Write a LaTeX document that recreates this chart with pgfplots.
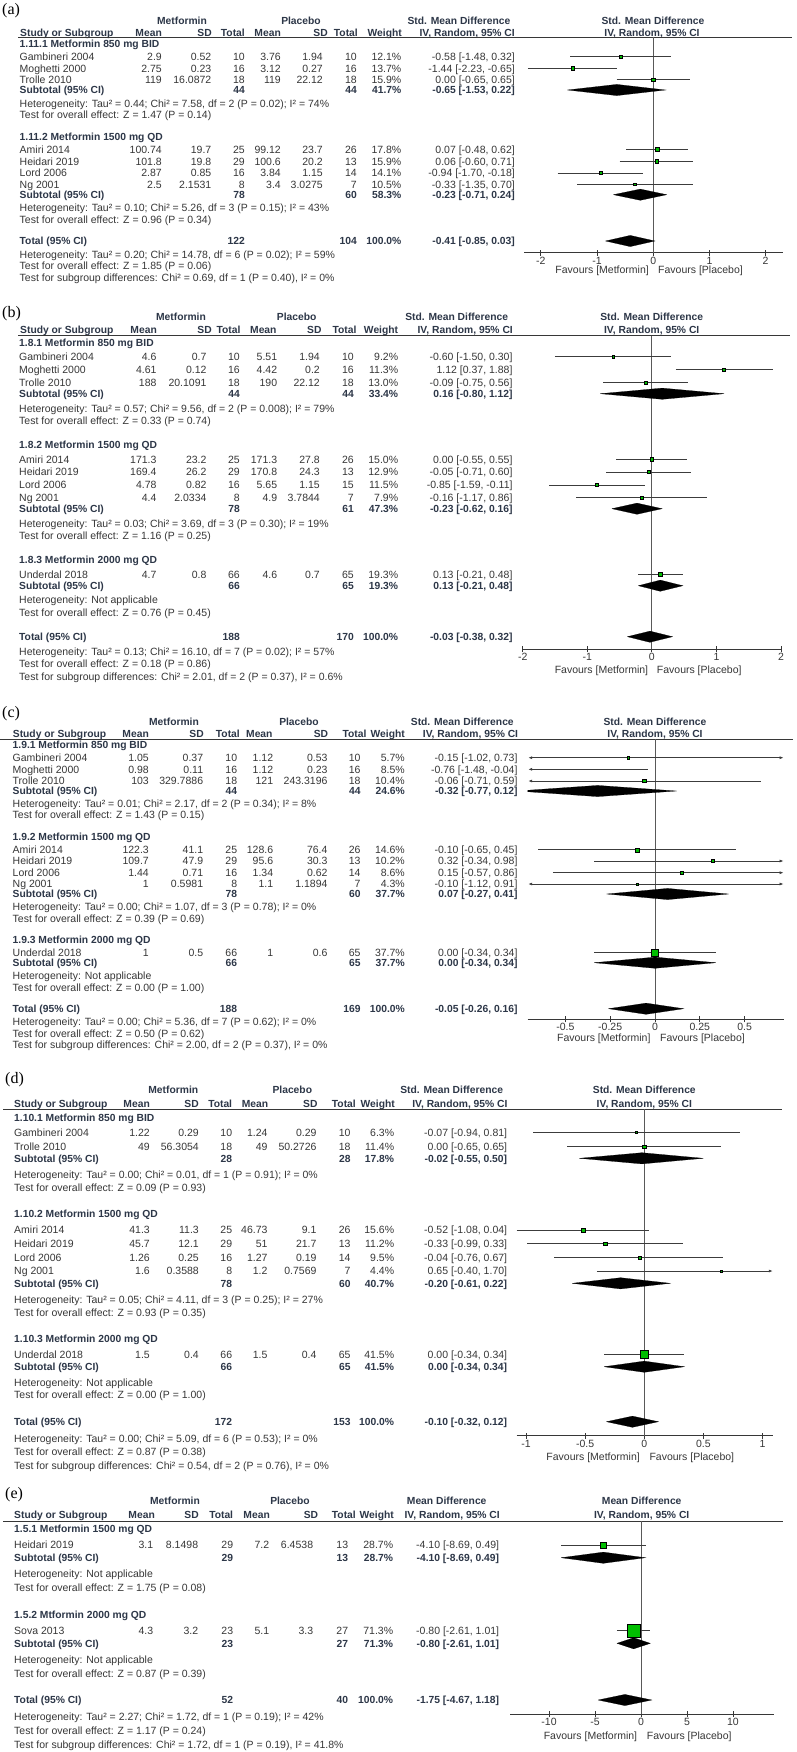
\documentclass[border=0pt]{standalone}
\usepackage{fontspec}
\setmainfont{Liberation Sans}
\newfontfamily\seriffont{Liberation Serif}
\usepackage{pgfplots}
\pgfplotsset{compat=1.18}
\usetikzlibrary{arrows.meta}

\definecolor{ctx}{RGB}{55,55,55}
\definecolor{chd}{RGB}{45,55,72}
\definecolor{sqg}{RGB}{0,190,0}
\definecolor{ccil}{RGB}{60,60,60}

\newcommand\fs{\fontsize{10.5}{12.5}\selectfont}
\newcommand\fb{\fontsize{10.3}{12.5}\selectfont\bfseries}
\tikzset{
  tx/.style={inner sep=0pt, text=ctx, font=\fs},
  tb/.style={inner sep=0pt, text=chd, font=\fb},
  la/.style={{Latex[length=4pt,width=3pt]}-},
  ra/.style={-{Latex[length=4pt,width=3pt]}},
  ba/.style={{Latex[length=4pt,width=3pt]}-{Latex[length=4pt,width=3pt]}},
}

% ---- table text (pixel coordinates, y downwards)
\newcommand\tR[3]{\node[tx,anchor=base east] at (#1,#2+3.8) {#3};}
\newcommand\tRB[3]{\node[tb,anchor=base east] at (#1,#2+3.8) {#3};}
\newcommand\tC[3]{\node[tb,anchor=base] at (#1,#2+3.8) {#3};}
\newcommand\tL[2]{\node[tx,anchor=base west] at (\cL,#1+3.8) {#2};}
\newcommand\tLB[2]{\node[tb,anchor=base west] at (\cL,#1+3.8) {#2};}
\newcommand\setcols[9]{\def\cL{#1}\def\cA{#2}\def\cB{#3}\def\cC{#4}\def\cD{#5}\def\cE{#6}\def\cF{#7}\def\cG{#8}\def\cH{#9}}
\newcommand\srow[9]{\tL{#1}{#2}\tR{\cA}{#1}{#3}\tR{\cB}{#1}{#4}\tR{\cC}{#1}{#5}\tR{\cD}{#1}{#6}\tR{\cE}{#1}{#7}\tR{\cF}{#1}{#8}\tR{\cG}{#1}{#9}}
\newcommand\sef[2]{\tR{\cH}{#1}{#2}}
\newcommand\ssub[6]{\tLB{#1}{#2}\tRB{\cC}{#1}{#3}\tRB{\cF}{#1}{#4}\tRB{\cG}{#1}{#5}\tRB{\cH}{#1}{#6}}
\newcommand\hdone[6]{\tC{#2}{#1}{Metformin}\tC{#3}{#1}{Placebo}\tC{#4}{#1}{#6}\tC{#5}{#1}{#6}}
\newcommand\hdtwo[9]{\node[tb,anchor=base west] at (#2,#1+3.8) {Study or Subgroup};
  \tRB{#3}{#1}{Mean}\tRB{#4}{#1}{SD}\tRB{#5}{#1}{Total}\tRB{#6}{#1}{Mean}\tRB{#7}{#1}{SD}\tRB{#8}{#1}{Total}\tRB{#9}{#1}{Weight}}
\newcommand\hdiv[3]{\tRB{#2}{#1}{IV, Random, 95\% CI}\tC{#3}{#1}{IV, Random, 95\% CI}}
\newcommand\tabrule[3]{\draw[line width=1pt, ctx] (#2,#1) -- (#3,#1);}
\newcommand\fav[3]{\node[tx,anchor=base east] at (#2,#1+3.8) {Favours [Metformin]};
  \node[tx,anchor=base west] at (#3,#1+3.8) {Favours [Placebo]};}
\newcommand\plab[3]{\node[inner sep=0pt,anchor=base west,font=\seriffont\fontsize{16}{16}\selectfont] at (#1,#2) {#3};}

% ---- forest plot elements (inside axis, y = -pixel row)
\newcommand\fci[4][]{\addplot[draw=ccil, line width=0.7pt, #1] coordinates {(#3,-#2) (#4,-#2)};}
\newcommand\fsq[3]{\addplot[only marks, mark=square*, mark size=#3pt, mark options={draw=none, fill=sqg}] coordinates {(#2,-#1)};}
\newcommand\fst[6][]{\fci[#1]{#2}{#4}{#5}\fsq{#2}{#3}{#6}}
\newcommand\fdm[4]{\pgfmathsetmacro\dmt{-#1+5.6}\pgfmathsetmacro\dmb{-#1-5.6}%
  \addplot[fill=black, draw=black, line width=0.2pt] coordinates {(#3,-#1) (#2,\dmt) (#4,-#1) (#2,\dmb) (#3,-#1)};}
\newcommand\fzero[2]{\addplot[draw=black!65, line width=0.9pt] coordinates {(0,-#1) (0,-#2)};}

\pgfplotsset{forest/.style={anchor=south west, scale only axis, enlargelimits=false, clip=true,
  axis y line=none, axis x line*=bottom, x axis line style={-, draw=ctx, line width=0.9pt},
  ytick=\empty, tick align=center, major tick length=6pt,
  tick style={draw=ctx, line width=0.9pt},
  xticklabel style={font=\fs, text=ctx, inner sep=1pt}}}

\begin{document}
\begin{tikzpicture}
\fill[white] (0,0) rectangle (796pt,-1752pt);
\useasboundingbox (0,0) rectangle (796pt,-1752pt);

% ================= (a)
\begin{scope}[x=1pt,y=-1pt]
\plab{2}{14.5}{(a)}
\hdone{20.7}{182}{301}{459}{653}{Std. Mean Difference}
\hdtwo{32.3}{20}{162}{212}{245}{281}{328}{358}{402}
\hdiv{32.3}{515}{652}
\tabrule{37.3}{18}{792}
\setcols{19.5}{162}{211.5}{245}{281}{323}{357}{401.5}{515}
\tLB{43.7}{1.11.1 Metformin 850 mg BID}
\srow{56.7}{Gambineri 2004}{2.9}{0.52}{10}{3.76}{1.94}{10}{12.1\%}\sef{56.7}{-0.58 [-1.48, 0.32]}
\srow{68.3}{Moghetti 2000}{2.75}{0.23}{16}{3.12}{0.27}{16}{13.7\%}\sef{68.3}{-1.44 [-2.23, -0.65]}
\srow{79.7}{Trolle 2010}{119}{16.0872}{18}{119}{22.12}{18}{15.9\%}\sef{79.7}{0.00 [-0.65, 0.65]}
\ssub{90}{Subtotal (95\% CI)}{44}{44}{41.7\%}{-0.65 [-1.53, 0.22]}
\tL{103.3}{Heterogeneity: Tau² = 0.44; Chi² = 7.58, df = 2 (P = 0.02); I² = 74\%}
\tL{115}{Test for overall effect: Z = 1.47 (P = 0.14)}
\tLB{136.7}{1.11.2 Metformin 1500 mg QD}
\srow{149.3}{Amiri 2014}{100.74}{19.7}{25}{99.12}{23.7}{26}{17.8\%}\sef{149.3}{0.07 [-0.48, 0.62]}
\srow{161.3}{Heidari 2019}{101.8}{19.8}{29}{100.6}{20.2}{13}{15.9\%}\sef{161.3}{0.06 [-0.60, 0.71]}
\srow{173}{Lord 2006}{2.87}{0.85}{16}{3.84}{1.15}{14}{14.1\%}\sef{173}{-0.94 [-1.70, -0.18]}
\srow{184.3}{Ng 2001}{2.5}{2.1531}{8}{3.4}{3.0275}{7}{10.5\%}\sef{184.3}{-0.33 [-1.35, 0.70]}
\ssub{194.7}{Subtotal (95\% CI)}{78}{60}{58.3\%}{-0.23 [-0.71, 0.24]}
\tL{207.7}{Heterogeneity: Tau² = 0.10; Chi² = 5.26, df = 3 (P = 0.15); I² = 43\%}
\tL{219.3}{Test for overall effect: Z = 0.96 (P = 0.34)}
\ssub{241}{Total (95\% CI)}{122}{104}{100.0\%}{-0.41 [-0.85, 0.03]}
\tL{254.3}{Heterogeneity: Tau² = 0.20; Chi² = 14.78, df = 6 (P = 0.02); I² = 59\%}
\tL{266}{Test for overall effect: Z = 1.85 (P = 0.06)}
\tL{277.3}{Test for subgroup differences: Chi² = 0.69, df = 1 (P = 0.40), I² = 0\%}
\fav{270}{649}{658}
\end{scope}
\begin{axis}[forest, at={(524pt,-252.7pt)}, width=258.5pt, height=215.4pt,
  xmin=-2.3, xmax=2.3, ymin=-252.7, ymax=-37.3,
  xtick={-2,-1,0,1,2}, xticklabels={-2,-1,0,1,2}]
\fzero{37.3}{252.7}
\fst{56.7}{-0.58}{-1.48}{0.32}{1.5}
\fst{68.3}{-1.44}{-2.23}{-0.65}{1.6}
\fst{79.7}{0.00}{-0.65}{0.65}{1.8}
\fdm{90}{-0.65}{-1.53}{0.22}
\fst{149.3}{0.07}{-0.48}{0.62}{2}
\fst{161.3}{0.06}{-0.60}{0.71}{1.8}
\fst{173}{-0.94}{-1.70}{-0.18}{1.7}
\fst{184.3}{-0.33}{-1.35}{0.70}{1.4}
\fdm{194.7}{-0.23}{-0.71}{0.24}
\fdm{241}{-0.41}{-0.85}{0.03}
\end{axis}

% ================= (b)
\begin{scope}[x=1pt,y=-1pt]
\plab{2}{317.5}{(b)}
\hdone{316.7}{181}{296.7}{456.7}{651.7}{Std. Mean Difference}
\hdtwo{330}{20}{157}{212}{240.7}{276.7}{321.7}{356.7}{398.3}
\hdiv{330}{513}{651.7}
\tabrule{335.7}{18}{790}
\setcols{19}{156.7}{206.7}{240}{277.3}{320}{354}{398.3}{512.7}
\tLB{342.3}{1.8.1 Metformin 850 mg BID}
\srow{356.7}{Gambineri 2004}{4.6}{0.7}{10}{5.51}{1.94}{10}{9.2\%}\sef{356.7}{-0.60 [-1.50, 0.30]}
\srow{369.3}{Moghetti 2000}{4.61}{0.12}{16}{4.42}{0.2}{16}{11.3\%}\sef{369.3}{1.12 [0.37, 1.88]}
\srow{382.7}{Trolle 2010}{188}{20.1091}{18}{190}{22.12}{18}{13.0\%}\sef{382.7}{-0.09 [-0.75, 0.56]}
\ssub{393.7}{Subtotal (95\% CI)}{44}{44}{33.4\%}{0.16 [-0.80, 1.12]}
\tL{408.3}{Heterogeneity: Tau² = 0.57; Chi² = 9.56, df = 2 (P = 0.008); I² = 79\%}
\tL{421}{Test for overall effect: Z = 0.33 (P = 0.74)}
\tLB{445}{1.8.2 Metformin 1500 mg QD}
\srow{459.3}{Amiri 2014}{171.3}{23.2}{25}{171.3}{27.8}{26}{15.0\%}\sef{459.3}{0.00 [-0.55, 0.55]}
\srow{472}{Heidari 2019}{169.4}{26.2}{29}{170.8}{24.3}{13}{12.9\%}\sef{472}{-0.05 [-0.71, 0.60]}
\srow{485}{Lord 2006}{4.78}{0.82}{16}{5.65}{1.15}{15}{11.5\%}\sef{485}{-0.85 [-1.59, -0.11]}
\srow{497.7}{Ng 2001}{4.4}{2.0334}{8}{4.9}{3.7844}{7}{7.9\%}\sef{497.7}{-0.16 [-1.17, 0.86]}
\ssub{508.7}{Subtotal (95\% CI)}{78}{61}{47.3\%}{-0.23 [-0.62, 0.16]}
\tL{523.3}{Heterogeneity: Tau² = 0.03; Chi² = 3.69, df = 3 (P = 0.30); I² = 19\%}
\tL{536}{Test for overall effect: Z = 1.16 (P = 0.25)}
\tLB{560}{1.8.3 Metformin 2000 mg QD}
\srow{574.3}{Underdal 2018}{4.7}{0.8}{66}{4.6}{0.7}{65}{19.3\%}\sef{574.3}{0.13 [-0.21, 0.48]}
\ssub{585.7}{Subtotal (95\% CI)}{66}{65}{19.3\%}{0.13 [-0.21, 0.48]}
\tL{600}{Heterogeneity: Not applicable}
\tL{612.7}{Test for overall effect: Z = 0.76 (P = 0.45)}
\ssub{636.7}{Total (95\% CI)}{188}{170}{100.0\%}{-0.03 [-0.38, 0.32]}
\tL{651.7}{Heterogeneity: Tau² = 0.13; Chi² = 16.10, df = 7 (P = 0.02); I² = 57\%}
\tL{664}{Test for overall effect: Z = 0.18 (P = 0.86)}
\tL{676.7}{Test for subgroup differences: Chi² = 2.01, df = 2 (P = 0.37), I² = 0.6\%}
\fav{669.3}{648.3}{656.7}
\end{scope}
\begin{axis}[forest, at={(522.7pt,-649.3pt)}, width=258.3pt, height=313.6pt,
  xmin=-2, xmax=2, ymin=-649.3, ymax=-335.7,
  xtick={-2,-1,0,1,2}, xticklabels={-2,-1,0,1,2}]
\fzero{335.7}{649.3}
\fst{356.7}{-0.60}{-1.50}{0.30}{1.3}
\fst{369.3}{1.12}{0.37}{1.88}{1.5}
\fst{382.7}{-0.09}{-0.75}{0.56}{1.6}
\fdm{393.7}{0.16}{-0.80}{1.12}
\fst{459.3}{0.00}{-0.55}{0.55}{1.8}
\fst{472}{-0.05}{-0.71}{0.60}{1.6}
\fst{485}{-0.85}{-1.59}{-0.11}{1.5}
\fst{497.7}{-0.16}{-1.17}{0.86}{1.2}
\fdm{508.7}{-0.23}{-0.62}{0.16}
\fst{574.3}{0.13}{-0.21}{0.48}{2.1}
\fdm{585.7}{0.13}{-0.21}{0.48}
\fdm{636.7}{-0.03}{-0.38}{0.32}
\end{axis}

% ================= (c)
\begin{scope}[x=1pt,y=-1pt]
\plab{2}{717.5}{(c)}
\hdone{721.7}{174}{299}{462.3}{655}{Std. Mean Difference}
\hdtwo{733.7}{12.7}{149}{204}{240}{272.7}{328.3}{366.7}{405}
\hdiv{733.7}{518.3}{655}
\tabrule{739}{0}{793}
\setcols{12.5}{149}{203.3}{237.3}{273.3}{327.7}{360.7}{405}{517.7}
\tLB{745}{1.9.1 Metformin 850 mg BID}
\srow{757.7}{Gambineri 2004}{1.05}{0.37}{10}{1.12}{0.53}{10}{5.7\%}\sef{757.7}{-0.15 [-1.02, 0.73]}
\srow{769.3}{Moghetti 2000}{0.98}{0.11}{16}{1.12}{0.23}{16}{8.5\%}\sef{769.3}{-0.76 [-1.48, -0.04]}
\srow{781}{Trolle 2010}{103}{329.7886}{18}{121}{243.3196}{18}{10.4\%}\sef{781}{-0.06 [-0.71, 0.59]}
\ssub{791}{Subtotal (95\% CI)}{44}{44}{24.6\%}{-0.32 [-0.77, 0.12]}
\tL{804}{Heterogeneity: Tau² = 0.01; Chi² = 2.17, df = 2 (P = 0.34); I² = 8\%}
\tL{815}{Test for overall effect: Z = 1.43 (P = 0.15)}
\tLB{836.7}{1.9.2 Metformin 1500 mg QD}
\srow{849.7}{Amiri 2014}{122.3}{41.1}{25}{128.6}{76.4}{26}{14.6\%}\sef{849.7}{-0.10 [-0.65, 0.45]}
\srow{861}{Heidari 2019}{109.7}{47.9}{29}{95.6}{30.3}{13}{10.2\%}\sef{861}{0.32 [-0.34, 0.98]}
\srow{872.7}{Lord 2006}{1.44}{0.71}{16}{1.34}{0.62}{14}{8.6\%}\sef{872.7}{0.15 [-0.57, 0.86]}
\srow{884}{Ng 2001}{1}{0.5981}{8}{1.1}{1.1894}{7}{4.3\%}\sef{884}{-0.10 [-1.12, 0.91]}
\ssub{894}{Subtotal (95\% CI)}{78}{60}{37.7\%}{0.07 [-0.27, 0.41]}
\tL{907}{Heterogeneity: Tau² = 0.00; Chi² = 1.07, df = 3 (P = 0.78); I² = 0\%}
\tL{918.3}{Test for overall effect: Z = 0.39 (P = 0.69)}
\tLB{940}{1.9.3 Metformin 2000 mg QD}
\srow{952.7}{Underdal 2018}{1}{0.5}{66}{1}{0.6}{65}{37.7\%}\sef{952.7}{0.00 [-0.34, 0.34]}
\ssub{962.7}{Subtotal (95\% CI)}{66}{65}{37.7\%}{0.00 [-0.34, 0.34]}
\tL{975.7}{Heterogeneity: Not applicable}
\tL{987.3}{Test for overall effect: Z = 0.00 (P = 1.00)}
\ssub{1008.7}{Total (95\% CI)}{188}{169}{100.0\%}{-0.05 [-0.26, 0.16]}
\tL{1021.7}{Heterogeneity: Tau² = 0.00; Chi² = 5.36, df = 7 (P = 0.62); I² = 0\%}
\tL{1033.3}{Test for overall effect: Z = 0.50 (P = 0.62)}
\tL{1044.3}{Test for subgroup differences: Chi² = 2.00, df = 2 (P = 0.37), I² = 0\%}
\fav{1037.3}{650.7}{660}
\end{scope}
\begin{axis}[forest, at={(527.7pt,-1019.3pt)}, width=256.4pt, height=280.3pt,
  xmin=-0.71, xmax=0.72, ymin=-1019.3, ymax=-739,
  xtick={-0.5,-0.25,0,0.25,0.5}, xticklabels={-0.5,-0.25,0,0.25,0.5}]
\fzero{739}{1019.3}
% CIs running past the axis end in arrows at its edge
\fst[ba]{757.7}{-0.15}{-0.707}{0.717}{1.2}
\fst[la]{769.3}{-0.76}{-0.707}{-0.04}{1.5}
\fst[la]{781}{-0.06}{-0.707}{0.59}{1.6}
\fdm{791}{-0.32}{-0.77}{0.12}
\fst{849.7}{-0.10}{-0.65}{0.45}{2}
\fst[ra]{861}{0.32}{-0.34}{0.717}{1.6}
\fst[ra]{872.7}{0.15}{-0.57}{0.717}{1.5}
\fst[ba]{884}{-0.10}{-0.707}{0.717}{1.1}
\fdm{894}{0.07}{-0.27}{0.41}
\fst{952.7}{0.00}{-0.34}{0.34}{3.4}
\fdm{962.7}{0.00}{-0.34}{0.34}
\fdm{1008.7}{-0.05}{-0.26}{0.16}
\end{axis}

% ================= (d)
\begin{scope}[x=1pt,y=-1pt]
\plab{5}{1083.5}{(d)}
\hdone{1089.3}{173.3}{292.3}{451.7}{644.3}{Std. Mean Difference}
\hdtwo{1103.3}{14}{150}{199}{232.3}{268.3}{317.7}{356}{395}
\hdiv{1103.3}{507.7}{644.3}
\tabrule{1109.3}{3}{782.3}
\setcols{14}{150}{199}{232.3}{267.7}{316.7}{350.7}{394.3}{507.3}
\tLB{1117.3}{1.10.1 Metformin 850 mg BID}
\srow{1132.3}{Gambineri 2004}{1.22}{0.29}{10}{1.24}{0.29}{10}{6.3\%}\sef{1132.3}{-0.07 [-0.94, 0.81]}
\srow{1146.7}{Trolle 2010}{49}{56.3054}{18}{49}{50.2726}{18}{11.4\%}\sef{1146.7}{0.00 [-0.65, 0.65]}
\ssub{1158.3}{Subtotal (95\% CI)}{28}{28}{17.8\%}{-0.02 [-0.55, 0.50]}
\tL{1174.3}{Heterogeneity: Tau² = 0.00; Chi² = 0.01, df = 1 (P = 0.91); I² = 0\%}
\tL{1187.7}{Test for overall effect: Z = 0.09 (P = 0.93)}
\tLB{1214}{1.10.2 Metformin 1500 mg QD}
\srow{1230}{Amiri 2014}{41.3}{11.3}{25}{46.73}{9.1}{26}{15.6\%}\sef{1230}{-0.52 [-1.08, 0.04]}
\srow{1243.3}{Heidari 2019}{45.7}{12.1}{29}{51}{21.7}{13}{11.2\%}\sef{1243.3}{-0.33 [-0.99, 0.33]}
\srow{1257.3}{Lord 2006}{1.26}{0.25}{16}{1.27}{0.19}{14}{9.5\%}\sef{1257.3}{-0.04 [-0.76, 0.67]}
\srow{1271}{Ng 2001}{1.6}{0.3588}{8}{1.2}{0.7569}{7}{4.4\%}\sef{1271}{0.65 [-0.40, 1.70]}
\ssub{1283.3}{Subtotal (95\% CI)}{78}{60}{40.7\%}{-0.20 [-0.61, 0.22]}
\tL{1299.3}{Heterogeneity: Tau² = 0.05; Chi² = 4.11, df = 3 (P = 0.25); I² = 27\%}
\tL{1312.7}{Test for overall effect: Z = 0.93 (P = 0.35)}
\tLB{1339}{1.10.3 Metformin 2000 mg QD}
\srow{1354.3}{Underdal 2018}{1.5}{0.4}{66}{1.5}{0.4}{65}{41.5\%}\sef{1354.3}{0.00 [-0.34, 0.34]}
\ssub{1366.7}{Subtotal (95\% CI)}{66}{65}{41.5\%}{0.00 [-0.34, 0.34]}
\tL{1382.3}{Heterogeneity: Not applicable}
\tL{1395}{Test for overall effect: Z = 0.00 (P = 1.00)}
\ssub{1421.7}{Total (95\% CI)}{172}{153}{100.0\%}{-0.10 [-0.32, 0.12]}
\tL{1438.3}{Heterogeneity: Tau² = 0.00; Chi² = 5.09, df = 6 (P = 0.53); I² = 0\%}
\tL{1451.7}{Test for overall effect: Z = 0.87 (P = 0.38)}
\tL{1465.7}{Test for subgroup differences: Chi² = 0.54, df = 2 (P = 0.76), I² = 0\%}
\fav{1456.7}{640}{649.3}
\end{scope}
\begin{axis}[forest, at={(516.6pt,-1435.7pt)}, width=256.5pt, height=326.4pt,
  xmin=-1.08, xmax=1.09, ymin=-1435.7, ymax=-1109.3,
  xtick={-1,-0.5,0,0.5,1}, xticklabels={-1,-0.5,0,0.5,1}]
\fzero{1109.3}{1435.7}
\fst{1132.3}{-0.07}{-0.94}{0.81}{1.2}
\fst{1146.7}{0.00}{-0.65}{0.65}{1.6}
\fdm{1158.3}{-0.02}{-0.55}{0.50}
\fst{1230}{-0.52}{-1.08}{0.04}{2}
\fst{1243.3}{-0.33}{-0.99}{0.33}{1.6}
\fst{1257.3}{-0.04}{-0.76}{0.67}{1.4}
\fst[ra]{1271}{0.65}{-0.40}{1.087}{1.1}
\fdm{1283.3}{-0.20}{-0.61}{0.22}
\fst{1354.3}{0.00}{-0.34}{0.34}{3.8}
\fdm{1366.7}{0.00}{-0.34}{0.34}
\fdm{1421.7}{-0.10}{-0.32}{0.12}
\end{axis}

% ================= (e)
\begin{scope}[x=1pt,y=-1pt]
\plab{5}{1498.8}{(e)}
\hdone{1500.3}{175}{290}{446.7}{641.7}{Mean Difference}
\hdtwo{1514.3}{14}{155}{199}{233.3}{270}{318.3}{356}{394}
\hdiv{1514.3}{500}{641.7}
\tabrule{1521}{3}{783.3}
\setcols{14}{153.3}{198.3}{233.3}{269.3}{313.3}{348.3}{393.3}{499.3}
\tLB{1529}{1.5.1 Metformin 1500 mg QD}
\srow{1545}{Heidari 2019}{3.1}{8.1498}{29}{7.2}{6.4538}{13}{28.7\%}\sef{1545}{-4.10 [-8.69, 0.49]}
\ssub{1557.7}{Subtotal (95\% CI)}{29}{13}{28.7\%}{-4.10 [-8.69, 0.49]}
\tL{1574}{Heterogeneity: Not applicable}
\tL{1587.7}{Test for overall effect: Z = 1.75 (P = 0.08)}
\tLB{1615}{1.5.2 Mtformin 2000 mg QD}
\srow{1630.7}{Sova 2013}{4.3}{3.2}{23}{5.1}{3.3}{27}{71.3\%}\sef{1630.7}{-0.80 [-2.61, 1.01]}
\ssub{1643.3}{Subtotal (95\% CI)}{23}{27}{71.3\%}{-0.80 [-2.61, 1.01]}
\tL{1659.3}{Heterogeneity: Not applicable}
\tL{1673.3}{Test for overall effect: Z = 0.87 (P = 0.39)}
\ssub{1700}{Total (95\% CI)}{52}{40}{100.0\%}{-1.75 [-4.67, 1.18]}
\tL{1716.7}{Heterogeneity: Tau² = 2.27; Chi² = 1.72, df = 1 (P = 0.19); I² = 42\%}
\tL{1730.7}{Test for overall effect: Z = 1.17 (P = 0.24)}
\tL{1745}{Test for subgroup differences: Chi² = 1.72, df = 1 (P = 0.19), I² = 41.8\%}
\fav{1735.7}{637.3}{646.7}
\end{scope}
\begin{axis}[forest, at={(510pt,-1714.3pt)}, width=264pt, height=193.3pt,
  xmin=-14.24, xmax=14.46, ymin=-1714.3, ymax=-1521,
  xtick={-10,-5,0,5,10}, xticklabels={-10,-5,0,5,10}]
\fzero{1521}{1714.3}
\fst{1545}{-4.10}{-8.69}{0.49}{3.3}
\fdm{1557.7}{-4.10}{-8.69}{0.49}
\fst{1630.7}{-0.80}{-2.61}{1.01}{6.2}
\fdm{1643.3}{-0.80}{-2.61}{1.01}
\fdm{1700}{-1.75}{-4.67}{1.18}
\end{axis}
\end{tikzpicture}
\end{document}
